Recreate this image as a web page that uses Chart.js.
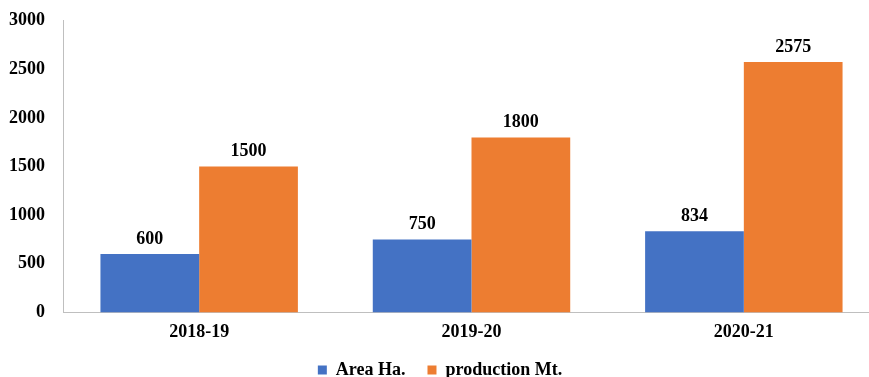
<!DOCTYPE html>
<html>
<head>
<meta charset="utf-8">
<script src="https://cdn.jsdelivr.net/npm/chart.js@4/dist/chart.umd.min.js"></script>
<style>
  html, body { margin: 0; padding: 0; background: #fff; overflow: hidden; }
  #wrap { width: 880px; height: 385px; }
</style>
</head>
<body>
<div id="wrap"><canvas id="c" width="880" height="385"></canvas></div>
<script>
const years = ['2018-19', '2019-20', '2020-21'];
const areaHa = [600, 750, 834];
const productionMt = [1500, 1800, 2575];
const yTicks = [0, 500, 1000, 1500, 2000, 2500, 3000];

const FONT = '"Liberation Serif", "Times New Roman", serif';

// Writes each bar's value just above it
const valueLabels = {
  id: 'valueLabels',
  afterDatasetsDraw(chart) {
    const ctx = chart.ctx;
    ctx.save();
    ctx.font = 'bold 18px ' + FONT;
    ctx.fillStyle = '#000';
    ctx.textAlign = 'center';
    ctx.textBaseline = 'bottom';
    chart.data.datasets.forEach((ds, i) => {
      chart.getDatasetMeta(i).data.forEach((bar, j) => {
        ctx.fillText(String(ds.data[j]), bar.x, bar.y - 6);
      });
    });
    ctx.restore();
  }
};

new Chart(document.getElementById('c'), {
  type: 'bar',
  data: {
    labels: years,
    datasets: [
      { label: 'Area Ha.', data: areaHa, backgroundColor: '#4472C4' },
      { label: 'production Mt.', data: productionMt, backgroundColor: '#ED7D31' }
    ]
  },
  options: {
    responsive: false,
    animation: false,
    devicePixelRatio: 1,
    layout: { padding: { left: 0, top: -5, right: 0, bottom: -4 } },
    datasets: { bar: { categoryPercentage: 0.725, barPercentage: 1.0 } },
    scales: {
      x: {
        afterFit(axis) { axis.height -= 5; },
        grid: { display: false },
        border: { display: true, color: '#bfbfbf', width: 1 },
        ticks: { color: '#000', font: { family: FONT, size: 18, weight: 'bold' }, padding: 1 }
      },
      y: {
        min: 0, max: 3000,
        afterBuildTicks(axis) { axis.ticks = yTicks.map(v => ({ value: v })); },
        afterFit(axis) { axis.width = 63; },
        grid: { display: false },
        border: { display: true, color: '#bfbfbf', width: 1 },
        ticks: {
          color: '#000',
          font: { family: FONT, size: 18, weight: 'bold' },
          padding: 10,
          callback: v => String(v)
        }
      }
    },
    plugins: {
      legend: {
        position: 'bottom',
        labels: {
          color: '#000',
          font: { family: FONT, size: 18, weight: 'bold' },
          boxWidth: 9, boxHeight: 9, padding: 22
        }
      },
      tooltip: { enabled: false }
    }
  },
  plugins: [valueLabels]
});
</script>
</body>
</html>
